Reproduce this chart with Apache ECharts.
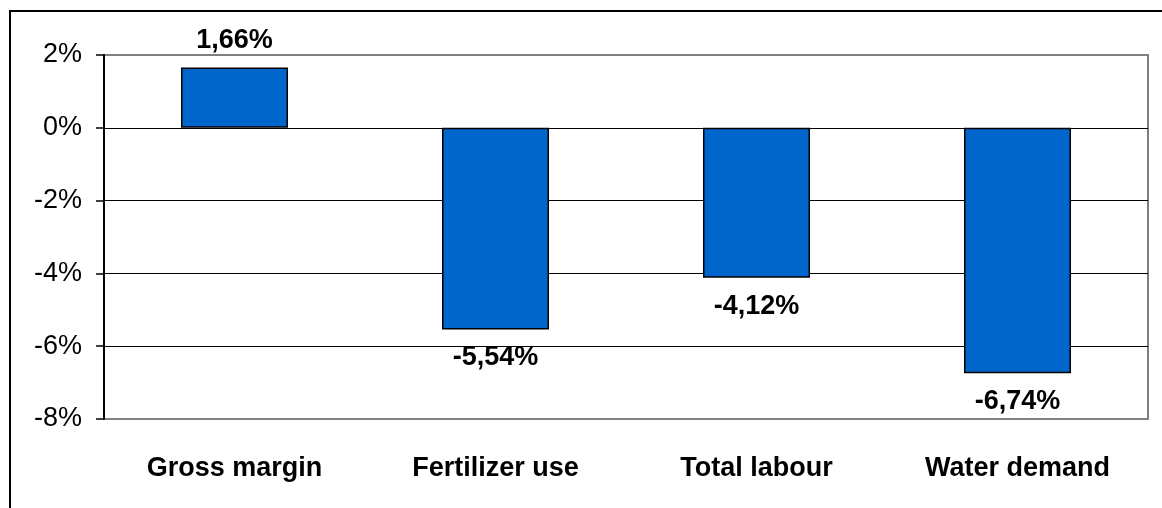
<!DOCTYPE html>
<html>
<head>
<meta charset="utf-8">
<style>
    html, body { margin: 0; padding: 0; background: #fff; }
    #chart { width: 1162px; height: 508px; }
</style>
<script src="https://cdn.jsdelivr.net/npm/echarts@6/dist/echarts.min.js"></script>
</head>
<body>
<div id="chart"></div>
<script>
// categories and values (percent change)
var categories = ['Gross margin', 'Fertilizer use', 'Total labour', 'Water demand']
var changes = [1.66, -5.54, -4.12, -6.74]
var yTicks = [-8, -6, -4, -2, 0, 2]

var fmt = function (v) {
    return v.toFixed(2).replace('.', ',') + '%'
}

const myChart = echarts.init(document.getElementById('chart'))

var option = {
    animation: false,
    backgroundColor: '#fff',
    textStyle: { fontFamily: 'Liberation Sans, Arial, sans-serif' },
    // outer frame (only top and left edges are in view)
    graphic: [
        {
            type: 'polyline',
            shape: { points: [[10, 520], [10, 11], [1170, 11]] },
            style: { stroke: '#000', lineWidth: 2, fill: null },
        },
    ],
    grid: {
        left: 104,
        right: 14,
        top: 55,
        bottom: 89,
        show: true,
        borderColor: '#808080',
        borderWidth: 2,
    },
    xAxis: {
        type: 'category',
        data: categories,
        axisLine: { show: false },
        axisTick: { show: false },
        axisLabel: {
            margin: 36,
            color: '#000',
            fontSize: 27,
            fontWeight: 'bold',
        },
    },
    yAxis: {
        type: 'value',
        min: yTicks[0],
        max: yTicks[yTicks.length - 1],
        interval: 2,
        axisLine: { show: true, lineStyle: { color: '#000', width: 2 } },
        axisTick: { show: true, length: 8, lineStyle: { color: '#000', width: 1.5 } },
        axisLabel: {
            margin: 22,
            color: '#000',
            fontSize: 27,
            formatter: function (v) { return v + '%' },
        },
        splitLine: {
            show: true,
            lineStyle: {
                color: ['#808080', '#000', '#000', '#000', '#000', '#808080'],
                width: 1,
            },
        },
    },
    series: [
        {
            type: 'bar',
            barWidth: '41%',
            itemStyle: {
                color: '#0066CC',
                borderColor: '#000',
                borderWidth: 1.5,
            },
            label: {
                show: true,
                color: '#000',
                fontSize: 27,
                fontWeight: 'bold',
                distance: 14,
                formatter: function (p) { return fmt(p.value) },
            },
            data: changes.map(function (v) {
                return { value: v, label: { position: v < 0 ? 'bottom' : 'top', distance: v < 0 ? 15 : 13 } }
            }),
        },
    ],
}

myChart.setOption(option)
</script>
</body>
</html>
